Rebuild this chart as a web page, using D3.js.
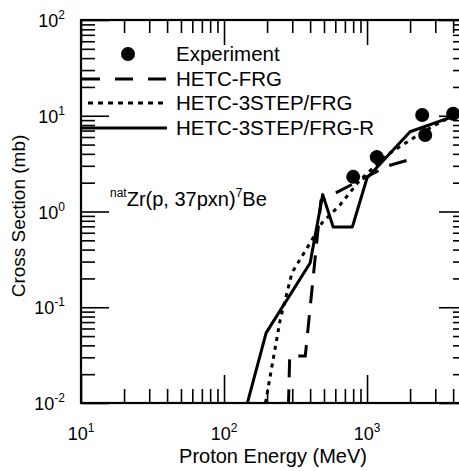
<!DOCTYPE html>
<html>
<head>
<meta charset="utf-8">
<script src="https://cdn.jsdelivr.net/npm/d3@7"></script>
<style>
  body { margin: 0; background: #fff; }
  text { font-family: "Liberation Sans", Arial, Helvetica, sans-serif; fill: #000; }
</style>
</head>
<body>
<div id="chart"></div>
<script>
// experiment points (MeV, mb)
var expEnergy = [800, 1170, 2430, 2550, 4000],
    expXs = [2.3, 3.7, 10.2, 6.3, 10.5]

// HETC-FRG (dashed)
var frgEnergy = [282, 288, 370, 476, 1400, 1950],
    frgXs = [0.009, 0.031, 0.031, 1.3, 3.0, 3.45]

// HETC-3STEP/FRG (dotted)
var stepEnergy = [195, 220, 247, 299, 386, 484, 647, 893, 1380, 2470, 3800],
    stepXs = [0.01, 0.028, 0.074, 0.23, 0.43, 0.76, 1.17, 2.13, 3.9, 6.8, 9.7]

// HETC-3STEP/FRG-R (solid)
var stepREnergy = [140, 197, 400, 490, 580, 790, 1000, 2000, 4300],
    stepRXs = [0.008, 0.054, 0.29, 1.5, 0.69, 0.69, 2.24, 6.8, 10.2]

var xTickExp = [1, 2, 3],
    yTickExp = [-2, -1, 0, 1, 2]

var legendNames = ["Experiment", "HETC-FRG", "HETC-3STEP/FRG", "HETC-3STEP/FRG-R"]

var pL = 81, pR = 467, pT = 20, pB = 403

var svg = d3.select("#chart")
    .append("svg")
    .attr("width", 459)
    .attr("height", 471)

var x = d3.scaleLog().domain([10, 5000]).range([pL, pR])
var y = d3.scaleLog().domain([0.01, 100]).range([pB, pT])

var xMinor = [], yMinor = []
;[10, 100, 1000].forEach(function (d) {
    for (var k = 2; k <= 9; k++) if (d * k < 5000) xMinor.push(d * k)
})
;[0.01, 0.1, 1, 10].forEach(function (d) {
    for (var k = 2; k <= 9; k++) yMinor.push(d * k)
})
var xMajor = xTickExp.map(function (e) { return Math.pow(10, e) })
var yMajor = yTickExp.map(function (e) { return Math.pow(10, e) })

function ticks(axis, tx, ty) {
    svg.append("g")
        .attr("transform", "translate(" + tx + "," + ty + ")")
        .call(axis.tickSizeOuter(0).tickFormat(""))
        .call(function (g) { g.select(".domain").remove() })
        .selectAll("line")
        .attr("stroke", "#000")
        .attr("stroke-width", 1.6)
}

// bottom
ticks(d3.axisBottom(x).tickValues(xMinor).tickSizeInner(-14), 0, pB)
ticks(d3.axisBottom(x).tickValues(xMajor).tickSizeInner(-28), 0, pB)
// top
ticks(d3.axisTop(x).tickValues(xMinor).tickSizeInner(-13), 0, pT)
ticks(d3.axisTop(x).tickValues(xMajor).tickSizeInner(-25), 0, pT)
// left
ticks(d3.axisLeft(y).tickValues(yMinor).tickSizeInner(-14), pL, 0)
ticks(d3.axisLeft(y).tickValues(yMajor).tickSizeInner(-28), pL, 0)
// right
ticks(d3.axisRight(y).tickValues(yMinor).tickSizeInner(-14), pR, 0)
ticks(d3.axisRight(y).tickValues(yMajor).tickSizeInner(-28), pR, 0)

// frame
svg.append("rect")
    .attr("x", pL)
    .attr("y", pT)
    .attr("width", pR - pL)
    .attr("height", pB - pT)
    .attr("fill", "none")
    .attr("stroke", "#000")
    .attr("stroke-width", 2.2)

// tick labels
xTickExp.forEach(function (e) {
    var t = svg.append("text")
        .attr("x", x(Math.pow(10, e)))
        .attr("y", 440)
        .attr("text-anchor", "middle")
        .style("font-size", "18px")
    t.append("tspan").text("10")
    t.append("tspan").text(e).attr("dy", -8).style("font-size", "12px")
})

yTickExp.forEach(function (e) {
    var t = svg.append("text")
        .attr("x", 65)
        .attr("y", y(Math.pow(10, e)) + 7)
        .attr("text-anchor", "end")
        .style("font-size", "18px")
    t.append("tspan").text("10")
    t.append("tspan").text(e).attr("dy", -8).style("font-size", "12px")
})

// axis titles
svg.append("text")
    .text("Proton Energy (MeV)")
    .attr("x", 273)
    .attr("y", 463)
    .attr("text-anchor", "middle")
    .style("font-size", "20px")

svg.append("text")
    .text("Cross Section (mb)")
    .attr("transform", "translate(25,216) rotate(-90)")
    .attr("text-anchor", "middle")
    .style("font-size", "19px")

// curves
svg.append("clipPath")
    .attr("id", "plotClip")
    .append("rect")
    .attr("x", pL)
    .attr("y", pT)
    .attr("width", pR - pL)
    .attr("height", pB - pT)

var line = d3.line()
    .x(function (d) { return x(d[0]) })
    .y(function (d) { return y(d[1]) })

var plot = svg.append("g").attr("clip-path", "url(#plotClip)")

plot.append("path")
    .attr("d", line(d3.zip(frgEnergy, frgXs)))
    .attr("fill", "none")
    .attr("stroke", "#000")
    .attr("stroke-width", 3)
    .attr("stroke-dasharray", "18,12")

plot.append("path")
    .attr("d", line(d3.zip(stepEnergy, stepXs)))
    .attr("fill", "none")
    .attr("stroke", "#000")
    .attr("stroke-width", 3)
    .attr("stroke-dasharray", "4,5")

plot.append("path")
    .attr("d", line(d3.zip(stepREnergy, stepRXs)))
    .attr("fill", "none")
    .attr("stroke", "#000")
    .attr("stroke-width", 3)
    .attr("stroke-linejoin", "round")

plot.selectAll("circle")
    .data(d3.zip(expEnergy, expXs))
    .join("circle")
    .attr("cx", function (d) { return x(d[0]) })
    .attr("cy", function (d) { return y(d[1]) })
    .attr("r", 7)
    .attr("fill", "#000")

// legend
svg.append("circle")
    .attr("cx", 128)
    .attr("cy", 54)
    .attr("r", 7)
    .attr("fill", "#000")

svg.append("line")
    .attr("x1", 82).attr("x2", 167).attr("y1", 79).attr("y2", 79)
    .attr("stroke", "#000").attr("stroke-width", 3)
    .attr("stroke-dasharray", "18,15")

svg.append("line")
    .attr("x1", 88).attr("x2", 167).attr("y1", 103).attr("y2", 103)
    .attr("stroke", "#000").attr("stroke-width", 3)
    .attr("stroke-dasharray", "5,5")

svg.append("line")
    .attr("x1", 82).attr("x2", 167).attr("y1", 128).attr("y2", 128)
    .attr("stroke", "#000").attr("stroke-width", 3)

svg.selectAll(".legendText")
    .data(legendNames)
    .join("text")
    .attr("class", "legendText")
    .text(function (d) { return d })
    .attr("x", 176)
    .attr("y", function (d, i) { return [61, 86, 110, 135][i] })
    .style("font-size", "20.5px")

// reaction label
var lab = svg.append("text")
    .attr("x", 110)
    .attr("y", 206)
    .style("font-size", "20px")
lab.append("tspan").text("nat").style("font-size", "12px").attr("dy", -9)
lab.append("tspan").text("Zr(p, 37pxn)").attr("dy", 9)
lab.append("tspan").text("7").style("font-size", "12px").attr("dy", -9)
lab.append("tspan").text("Be").attr("dy", 9)
</script>
</body>
</html>
